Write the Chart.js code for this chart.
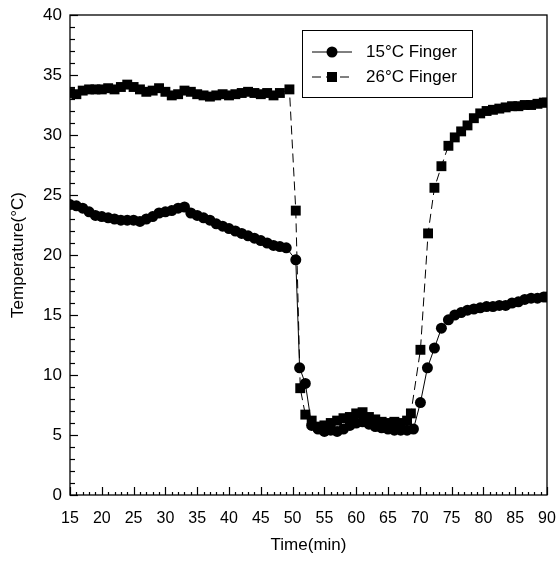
<!DOCTYPE html>
<html>
<head>
<meta charset="utf-8">
<script src="https://cdn.jsdelivr.net/npm/chart.js@4"></script>
<style>
  body { margin: 0; background: #fff; }
  #wrap { width: 557px; height: 564px; position: relative; }
</style>
</head>
<body>
<div id="wrap"><canvas id="myChart" width="557" height="564"></canvas></div>
<script>
// data
const time15 = [15,16,17,18,19,20,21,22,23,24,25,26,27,28,29,30,31,32,33,34,35,36,37,38,39,40,41,42,43,44,45,46,47,48,49,
  50.5,51.1,52,53,54,55,56,57,58,59,60,61,62,63,64,65,66,67,68,69,
  70.1,71.2,72.3,73.4,74.5,75.5,76.5,77.5,78.5,79.5,80.5,81.5,82.5,83.5,84.5,85.5,86.5,87.5,88.5,89.5,90];
const temp15 = [24.2,24.1,23.9,23.6,23.3,23.2,23.1,23.0,22.9,22.9,22.9,22.8,23.0,23.2,23.5,23.6,23.7,23.9,24.0,23.5,23.3,23.1,22.9,22.6,22.4,22.2,22.0,21.8,21.6,21.4,21.2,21.0,20.8,20.7,20.6,
  19.6,10.6,9.3,5.8,5.5,5.3,5.4,5.3,5.5,5.8,6.0,6.1,5.9,5.7,5.6,5.5,5.4,5.4,5.4,5.5,
  7.7,10.6,12.25,13.9,14.6,15.0,15.2,15.4,15.5,15.6,15.7,15.7,15.8,15.8,16.0,16.1,16.3,16.4,16.4,16.5,16.5];

const time26 = [15,16,17,18,19,20,21,22,23,24,25,26,27,28,29,30,31,32,33,34,35,36,37,38,39,40,41,42,43,44,45,46,47,48,49.5,
  50.5,51.2,52,53,54,55,56,57,58,59,60,61,62,63,64,65,66,67,68,68.6,
  70.1,71.3,72.3,73.4,74.5,75.5,76.5,77.5,78.5,79.5,80.5,81.5,82.5,83.5,84.5,85.5,86.5,87.5,88.5,89.5,90];
const temp26 = [33.5,33.4,33.7,33.8,33.8,33.8,33.9,33.8,34.0,34.2,34.0,33.8,33.6,33.7,33.9,33.6,33.3,33.4,33.7,33.6,33.4,33.3,33.2,33.3,33.4,33.3,33.4,33.5,33.6,33.5,33.4,33.5,33.3,33.5,33.8,
  23.7,8.9,6.7,6.2,5.7,5.8,6.0,6.2,6.4,6.5,6.8,6.9,6.5,6.3,6.1,6.0,6.1,6.0,6.2,6.8,
  12.1,21.8,25.6,27.4,29.1,29.8,30.3,30.8,31.4,31.8,32.0,32.1,32.2,32.3,32.4,32.4,32.5,32.5,32.6,32.7,32.7];

const labels = ['15\u00B0C Finger', '26\u00B0C Finger'];
const xTicks = [15,20,25,30,35,40,45,50,55,60,65,70,75,80,85,90];

const FONT = 'Liberation Sans, Arial, sans-serif';

// frame, inside ticks and the legend box
const frame = {
  id: 'frame',
  beforeDatasetsDraw(chart) {
    const c = chart.ctx, a = chart.chartArea;
    const xs = chart.scales.x, ys = chart.scales.y;
    c.save();
    c.strokeStyle = '#000';
    c.lineWidth = 1.3;
    c.strokeRect(a.left, a.top, a.right - a.left, a.bottom - a.top);
    c.lineWidth = 1.2;
    for (let v = 0; v <= 40; v++) {
      const y = Math.round(ys.getPixelForValue(v)) + 0.5;
      const len = v % 5 === 0 ? 8 : 5;
      c.beginPath(); c.moveTo(a.left, y); c.lineTo(a.left + len, y); c.stroke();
    }
    for (let v = 15; v <= 90; v++) {
      const x = Math.round(xs.getPixelForValue(v)) + 0.5;
      const len = v % 5 === 0 ? 8 : 3;
      c.beginPath(); c.moveTo(x, a.bottom); c.lineTo(x, a.bottom - len); c.stroke();
    }
    c.restore();
  },
  afterDraw(chart) {
    const c = chart.ctx;
    c.save();
    c.fillStyle = '#fff';
    c.fillRect(302, 30, 170, 67);
    c.strokeStyle = '#000';
    c.lineWidth = 1;
    c.strokeRect(302.5, 30.5, 170, 67);
    const rows = [52, 77];
    chart.data.datasets.forEach((ds, i) => {
      const y = rows[i];
      c.setLineDash(ds.borderDash || []);
      c.beginPath(); c.moveTo(312, y); c.lineTo(352, y); c.stroke();
      c.setLineDash([]);
      c.fillStyle = '#000';
      if (ds.pointStyle === 'rect') {
        c.fillRect(327, y - 5, 10, 10);
      } else {
        c.beginPath(); c.arc(332, y, 5.5, 0, Math.PI * 2); c.fill();
      }
      c.font = '17px ' + FONT;
      c.textBaseline = 'middle';
      c.fillText(ds.label, 366, y);
    });
    c.restore();
  }
};

const ctx = document.getElementById('myChart').getContext('2d');

const myChart = new Chart(ctx, {
  type: 'line',
  data: {
    datasets: [
      {
        label: labels[0],
        data: time15.map((t, i) => ({ x: t, y: temp15[i] })),
        borderColor: '#000',
        backgroundColor: '#000',
        borderWidth: 1,
        pointStyle: 'circle',
        pointRadius: 5.5,
        pointBorderWidth: 0,
        tension: 0
      },
      {
        label: labels[1],
        data: time26.map((t, i) => ({ x: t, y: temp26[i] })),
        borderColor: '#000',
        backgroundColor: '#000',
        borderWidth: 1,
        borderDash: [9, 5],
        pointStyle: 'rect',
        pointRadius: 7,
        pointBorderWidth: 0,
        tension: 0
      }
    ]
  },
  options: {
    responsive: false,
    animation: false,
    layout: { padding: { top: 15, right: 10, left: 0, bottom: 0 } },
    plugins: { legend: { display: false }, tooltip: { enabled: false } },
    scales: {
      x: {
        type: 'linear',
        min: 15,
        max: 90,
        afterBuildTicks: (s) => { s.ticks = xTicks.map(v => ({ value: v })); },
        afterFit: (s) => { s.height = 69; s.paddingLeft = 0; s.paddingRight = 0; },
        grid: { display: false, drawTicks: false },
        border: { display: false },
        ticks: { color: '#000', font: { family: FONT, size: 16 }, padding: 14, maxRotation: 0, autoSkip: false },
        title: { display: true, text: 'Time(min)', color: '#000', font: { family: FONT, size: 17 }, padding: { top: 4, bottom: 8 } }
      },
      y: {
        min: 0,
        max: 40,
        afterFit: (s) => { s.width = 70; s.paddingTop = 0; s.paddingBottom = 0; },
        grid: { display: false, drawTicks: false },
        border: { display: false },
        ticks: { stepSize: 5, color: '#000', font: { family: FONT, size: 17 }, padding: 8 },
        title: { display: true, text: 'Temperature(\u00B0C)', color: '#000', font: { family: FONT, size: 17 }, padding: { top: 8, bottom: 0 } }
      }
    }
  },
  plugins: [frame]
});
</script>
</body>
</html>
